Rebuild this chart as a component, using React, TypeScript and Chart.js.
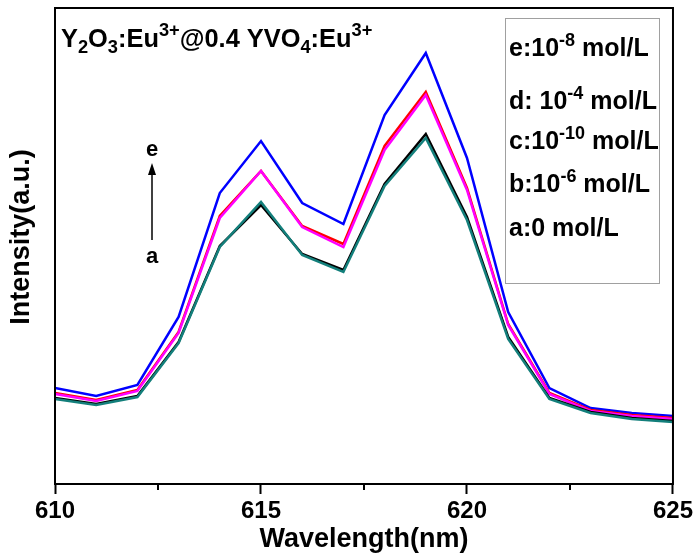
import React, { useEffect, useRef } from "react";
import { Chart, registerables } from "chart.js";

Chart.register(...registerables);

const wavelengths = [610, 611, 612, 613, 614, 615, 616, 617, 618, 619, 620, 621, 622, 623, 624, 625];
const seriesE = [96, 88, 99, 167, 291, 343, 281, 260, 369, 431, 326, 172, 96, 76, 71, 68];
const seriesD = [91, 84, 94, 152, 268, 313, 258, 240, 338, 392, 296, 160, 91, 74, 69, 66];
const seriesC = [90, 83, 93, 151, 266, 313, 257, 237, 334, 389, 294, 159, 90, 73, 68, 65];
const seriesB = [86, 80, 88, 142, 238, 279, 230, 214, 300, 350, 267, 147, 86, 72, 66, 63];
const seriesA = [85, 79, 87, 141, 237, 282, 229, 212, 298, 346, 264, 145, 85, 71, 65, 62];
const majorTicks = [610, 615, 620, 625];
const minorTicks = [612.5, 617.5, 622.5];

const FONT = '"Liberation Sans", Arial, sans-serif';

type Part = [string, "n" | "sup" | "sub"];

function drawRich(ctx: CanvasRenderingContext2D, x: number, y: number, parts: Part[], size: number) {
  let cx = x;
  ctx.textBaseline = "alphabetic";
  ctx.textAlign = "left";
  for (const [t, m] of parts) {
    const s = m === "n" ? size : size * 0.72;
    ctx.font = `bold ${s}px ${FONT}`;
    const dy = m === "sup" ? -size * 0.42 : m === "sub" ? size * 0.22 : 0;
    ctx.fillText(t, cx, y + dy);
    cx += ctx.measureText(t).width;
  }
}

const legendRows: Part[][] = [
  [["e:10", "n"], ["-8", "sup"], [" mol/L", "n"]],
  [["d: 10", "n"], ["-4", "sup"], [" mol/L", "n"]],
  [["c:10", "n"], ["-10", "sup"], [" mol/L", "n"]],
  [["b:10", "n"], ["-6", "sup"], [" mol/L", "n"]],
  [["a:0 mol/L", "n"]],
];
const legendBaselines = [56, 109, 149, 192, 236];

const titleParts: Part[] = [
  ["Y", "n"], ["2", "sub"], ["O", "n"], ["3", "sub"], [":Eu", "n"], ["3+", "sup"],
  ["@0.4 YVO", "n"], ["4", "sub"], [":Eu", "n"], ["3+", "sup"],
];

const overlay = {
  id: "overlay",
  afterDraw(chart: any) {
    const ctx: CanvasRenderingContext2D = chart.ctx;
    const ca = chart.chartArea;
    const xs = chart.scales.x;
    ctx.save();
    ctx.strokeStyle = "#000";
    ctx.lineWidth = 2;
    ctx.strokeRect(ca.left, ca.top, ca.right - ca.left, ca.bottom - ca.top);
    // minor ticks
    ctx.beginPath();
    for (const v of minorTicks) {
      const px = Math.round(xs.getPixelForValue(v));
      ctx.moveTo(px, ca.bottom);
      ctx.lineTo(px, ca.bottom + 6);
    }
    ctx.stroke();
    ctx.fillStyle = "#000";
    // axis titles
    ctx.font = `bold 27px ${FONT}`;
    ctx.textAlign = "center";
    ctx.textBaseline = "middle";
    ctx.fillText("Wavelength(nm)", (ca.left + ca.right) / 2, 540);
    ctx.save();
    ctx.translate(22, 237);
    ctx.rotate(-Math.PI / 2);
    ctx.fillText("Intensity(a.u.)", 0, 0);
    ctx.restore();
    // title
    drawRich(ctx, 61, 47, titleParts, 25.4);
    // legend box
    ctx.strokeStyle = "#a0a0a0";
    ctx.lineWidth = 1;
    ctx.strokeRect(505.5, 18.5, 154, 265);
    ctx.fillStyle = "#000";
    legendRows.forEach((r, i) => drawRich(ctx, 509, legendBaselines[i], r, 25));
    // arrow
    ctx.strokeStyle = "#000";
    ctx.lineWidth = 1.5;
    ctx.beginPath();
    ctx.moveTo(152, 240);
    ctx.lineTo(152, 172);
    ctx.stroke();
    ctx.beginPath();
    ctx.moveTo(152, 163);
    ctx.lineTo(148, 175);
    ctx.lineTo(156, 175);
    ctx.closePath();
    ctx.fill();
    ctx.font = `bold 22px ${FONT}`;
    ctx.textAlign = "center";
    ctx.textBaseline = "middle";
    ctx.fillText("e", 152, 150);
    ctx.fillText("a", 152, 257);
    ctx.restore();
  },
};

export default function App() {
  const ref = useRef<HTMLCanvasElement>(null);
  useEffect(() => {
    document.body.style.margin = "0";
    const mk = (vals: number[]) => wavelengths.map((w, i) => ({ x: w, y: vals[i] }));
    const ds = (label: string, vals: number[], color: string) => ({
      label,
      data: mk(vals),
      borderColor: color,
      backgroundColor: color,
      borderWidth: 2.5,
      pointRadius: 0,
      tension: 0,
    });
    const chart = new Chart(ref.current!, {
      type: "line",
      data: {
        datasets: [
          ds("a:0 mol/L", seriesA, "#137f7b"),
          ds("b:10-6 mol/L", seriesB, "#000000"),
          ds("c:10-10 mol/L", seriesC, "#ff00ff"),
          ds("d: 10-4 mol/L", seriesD, "#ff0000"),
          ds("e:10-8 mol/L", seriesE, "#0000ff"),
        ],
      },
      options: {
        animation: false,
        responsive: false,
        devicePixelRatio: 1,
        layout: { padding: { top: 8, right: 23, left: 0, bottom: 0 } },
        plugins: { legend: { display: false }, tooltip: { enabled: false } },
        scales: {
          x: {
            type: "linear",
            min: 610,
            max: 625,
            afterBuildTicks: (s: any) => {
              s.ticks = majorTicks.map((v) => ({ value: v }));
            },
            afterFit: (s: any) => {
              s.height = 76;
            },
            ticks: {
              color: "#000",
              font: { family: FONT, size: 24, weight: "bold" },
              padding: 3,
              maxRotation: 0,
              callback: (v: any) => String(v),
            },
            grid: { drawOnChartArea: false, drawTicks: true, tickLength: 10, tickWidth: 2, tickColor: "#000" },
            border: { display: true, color: "#000", width: 2 },
          },
          y: {
            min: 0,
            max: 476,
            afterFit: (s: any) => {
              s.width = 55;
            },
            ticks: { display: false },
            grid: { display: false },
            border: { display: true, color: "#000", width: 2 },
          },
        },
      },
      plugins: [overlay],
    } as any);
    return () => chart.destroy();
  }, []);
  return <canvas ref={ref} width={696} height={560} style={{ display: "block" }} />;
}
